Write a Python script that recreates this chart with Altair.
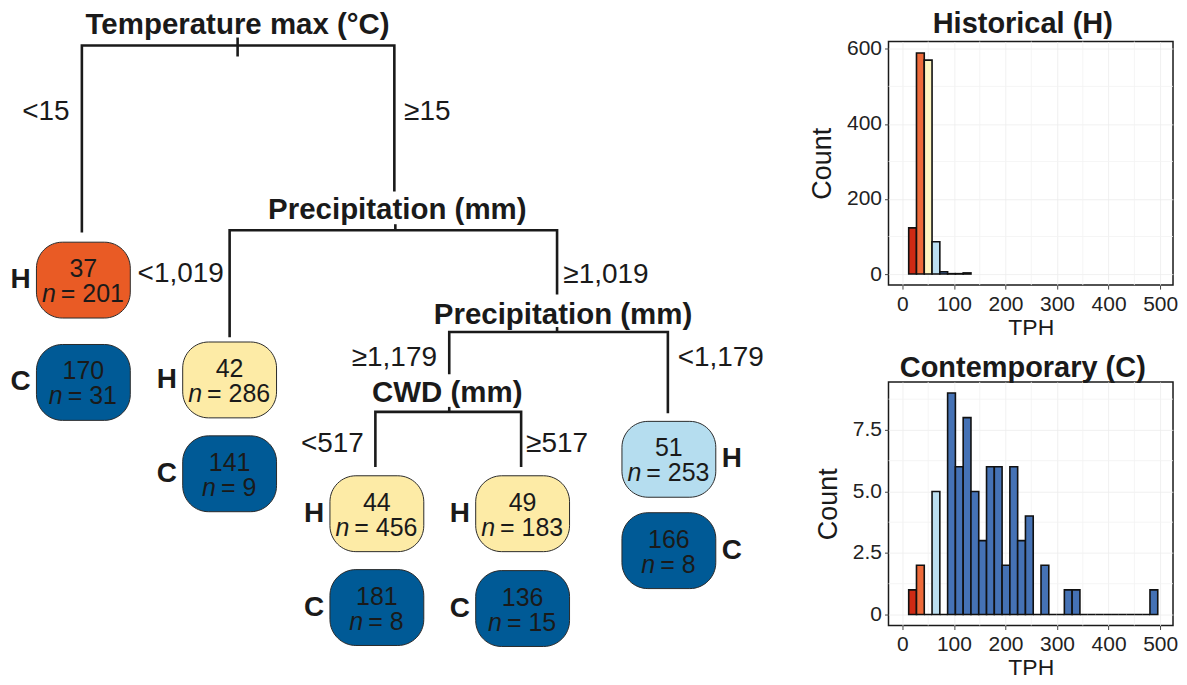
import altair as alt
import pandas as pd

FONT = "Liberation Sans"
INK = "#1a1a1a"

# ---------------- data ----------------
# Histogram bins of TPH (trees per hectare)
bin_lo = [12.2, 27.3, 42.4, 57.5, 72.6, 87.7, 102.8, 117.9, 133.0, 148.1, 163.2,
          178.3, 193.4, 208.5, 223.6, 238.7, 253.8, 268.9, 284.0, 299.1, 314.2,
          329.3, 344.4, 359.5, 374.6, 389.7, 404.8, 419.9, 435.0, 450.1, 465.2, 480.3]
bin_hi = [27.3, 42.4, 57.5, 72.6, 87.7, 102.8, 117.9, 133.0, 148.1, 163.2, 178.3,
          193.4, 208.5, 223.6, 238.7, 253.8, 268.9, 284.0, 299.1, 314.2, 329.3,
          344.4, 359.5, 374.6, 389.7, 404.8, 419.9, 435.0, 450.1, 465.2, 480.3, 495.4]
bin_class = ["very low", "low", "moderate", "high"] + ["very high"] * 28

counts_historical = [123, 589, 570, 86, 6, 1, 1, 3]
counts_contemporary = [1, 2, 0, 5, 0, 9, 6, 8, 5, 3, 6, 6, 2, 6, 3, 4,
                       0, 2, 0, 0, 1, 1, 0, 0, 0, 0, 0, 0, 0, 0, 0, 1]

x_ticks = [0, 100, 200, 300, 400, 500]
x_minor = [50, 150, 250, 350, 450]
yH_ticks = [0, 200, 400, 600]
yH_minor = [100, 300, 500]
yC_ticks = [0, 2.5, 5.0, 7.5]
yC_minor = [1.25, 3.75, 6.25, 8.75]

# Regression-tree leaves
node_value = [37, 170, 42, 141, 44, 181, 49, 136, 51, 166]
node_n = [201, 31, 286, 9, 456, 8, 183, 15, 253, 8]
node_period = ["H", "C", "H", "C", "H", "C", "H", "C", "H", "C"]
node_class = ["low", "very high", "moderate", "very high", "moderate",
              "very high", "moderate", "very high", "high", "very high"]

split_names = ["Temperature max (°C)", "Precipitation (mm)", "Precipitation (mm)", "CWD (mm)"]
branch_labels = ["<15", "≥15", "<1,019", "≥1,019", "≥1,179", "<1,179", "<517", "≥517"]

# ---------------- layout (pixel positions of the page, used in the tree panel) ----------------
TREE_TOP = 41          # page y of the tree panel's origin (aligned with histogram panel)
W_TREE, H_TREE = 790, 626
node_cx = [83.5, 83.5, 230, 230, 377.5, 377.5, 523.5, 523.5, 670, 670]
node_cy = [280, 382.5, 380, 474, 514, 608, 514, 609, 459.5, 551]
label_side = [-1, -1, -1, -1, -1, -1, -1, -1, 1, 1]
BOX_HW, BOX_HH = 47, 38

split_text_xy = [(238, 33), (398, 219), (564, 324), (448, 402)]
branch_xy = [(46, 120), (428, 120), (181, 282), (607, 283),
             (395, 366), (722, 366), (333, 452), (558, 452)]
# x_left, x_right, y_bar, y_end_left, y_end_right
split_paths = [(82, 395, 45, 231, 190), (230, 558, 230, 336, 293),
               (450, 669, 332, 373, 412), (376, 522, 412, 466, 466)]
split_ticks = [(238, 37, 56), (396, 224, 230), (558, 327, 332), (450, 407, 412)]

node_palette = {"low": "#e95b25", "moderate": "#fdeba6", "high": "#b5ddef", "very high": "#005a96"}
hist_palette = {"very low": "#cf2a14", "low": "#ee6a3a", "moderate": "#fff6c2",
                "high": "#bcdff0", "very high": "#4572b5"}

# ---------------- tree panel ----------------
xs = alt.Scale(domain=[8, 8 + W_TREE], nice=False, zero=False)
ys = alt.Scale(domain=[TREE_TOP, TREE_TOP + H_TREE], nice=False, zero=False, reverse=True)


def X(f):
    return alt.X(f"{f}:Q", scale=xs, axis=None)


def Y(f):
    return alt.Y(f"{f}:Q", scale=ys, axis=None)


path_rows = []
for i, (xl, xr, yb, yel, yer) in enumerate(split_paths):
    for k, (px, py) in enumerate([(xl, yel), (xl, yb), (xr, yb), (xr, yer)]):
        path_rows.append({"split": i, "k": k, "x": px, "y": py})
paths_df = pd.DataFrame(path_rows)

ticks_df = pd.DataFrame([{"x": a, "y": b, "y2": c} for a, b, c in split_ticks])

FS_NODE = 25
nodes = pd.DataFrame({
    "value": node_value, "n": node_n, "period": node_period, "cls": node_class,
    "cx": node_cx, "cy": node_cy, "side": label_side,
})
nodes["fill"] = nodes["cls"].map(node_palette)
nodes["x1"] = nodes["cx"] - BOX_HW
nodes["x2"] = nodes["cx"] + BOX_HW
nodes["y1"] = nodes["cy"] - BOX_HH
nodes["y2"] = nodes["cy"] + BOX_HH
nodes["vy"] = nodes["cy"] - 3
nodes["ny"] = nodes["cy"] + 22
nodes["rest"] = "= " + nodes["n"].astype(str)
w_n = 0.52 * FS_NODE
w_sp = 0.2 * FS_NODE
w_rest = (0.584 + 0.278 + 0.556 * nodes["n"].astype(str).str.len()) * FS_NODE
nodes["nx"] = nodes["cx"] - (w_n + w_sp + w_rest) / 2 + w_n
nodes["rx"] = nodes["nx"] + w_sp
nodes["lx"] = nodes["cx"] + nodes["side"] * (BOX_HW + 16)
nodes["ly"] = nodes["cy"] + 8

splits_df = pd.DataFrame({"name": split_names,
                          "x": [p[0] for p in split_text_xy],
                          "y": [p[1] for p in split_text_xy]})
branches_df = pd.DataFrame({"label": branch_labels,
                            "x": [p[0] for p in branch_xy],
                            "y": [p[1] for p in branch_xy]})

lines = alt.Chart(paths_df).mark_line(color=INK, strokeWidth=2.6, strokeJoin="miter", strokeCap="square").encode(
    x=X("x"), y=Y("y"), detail="split:N", order="k:O")
ticks = alt.Chart(ticks_df).mark_rule(color=INK, strokeWidth=2.6).encode(
    x=X("x"), y=Y("y"), y2=alt.Y2("y2:Q"))
boxes = alt.Chart(nodes).mark_rect(cornerRadius=26, stroke="#2a2a2a", strokeWidth=1).encode(
    x=X("x1"), x2=alt.X2("x2:Q"), y=Y("y1"), y2=alt.Y2("y2:Q"),
    fill=alt.Fill("fill:N", scale=None))
vals = alt.Chart(nodes).mark_text(font=FONT, fontSize=FS_NODE, color=INK, align="center",
                                  baseline="alphabetic").encode(x=X("cx"), y=Y("vy"), text="value:N")
nlab = alt.Chart(nodes).mark_text(font=FONT, fontSize=FS_NODE, fontStyle="italic", color=INK,
                                  align="right", baseline="alphabetic").encode(
    x=X("nx"), y=Y("ny"), text=alt.value("n"))
nrest = alt.Chart(nodes).mark_text(font=FONT, fontSize=FS_NODE, color=INK, align="left",
                                   baseline="alphabetic").encode(x=X("rx"), y=Y("ny"), text="rest:N")
plab = alt.Chart(nodes).mark_text(font=FONT, fontSize=28, fontWeight="bold", color=INK,
                                  align="center", baseline="alphabetic").encode(
    x=X("lx"), y=Y("ly"), text="period:N")
snames = alt.Chart(splits_df).mark_text(font=FONT, fontSize=29.5, fontWeight="bold", color=INK,
                                        align="center", baseline="alphabetic").encode(
    x=X("x"), y=Y("y"), text="name:N")
blabs = alt.Chart(branches_df).mark_text(font=FONT, fontSize=28, color=INK,
                                         align="center", baseline="alphabetic").encode(
    x=X("x"), y=Y("y"), text="label:N")

tree = alt.layer(lines, ticks, boxes, vals, nlab, nrest, plab, snames, blabs).properties(
    width=W_TREE, height=H_TREE)


# ---------------- histograms ----------------
def histogram(counts, title, ydomain, yvalues, yminor, label_expr):
    n = len(counts)
    df = pd.DataFrame({"lo": bin_lo[:n], "hi": bin_hi[:n], "count": counts, "cls": bin_class[:n]})
    df["fill"] = df["cls"].map(hist_palette)
    df["base"] = 0
    xscale = alt.Scale(domain=[-27, 525], nice=False, zero=False)
    yscale = alt.Scale(domain=ydomain, nice=False, zero=False)
    common = dict(labelFont=FONT, labelFontSize=21, labelColor="#222222", titleFont=FONT,
                  titleFontWeight="normal", titleColor=INK, tickSize=4, tickColor="#444444",
                  domain=False, grid=True, gridColor="#ececec", gridWidth=0.8)
    xaxis = alt.Axis(values=x_ticks, title="TPH", titleFontSize=23, labelPadding=4,
                     titlePadding=2, **common)
    yaxis = alt.Axis(values=yvalues, title="Count", titleFontSize=27, labelPadding=3,
                     titlePadding=10, labelExpr=label_expr, **common)
    gx = alt.Chart(pd.DataFrame({"v": x_minor})).mark_rule(color="#f3f3f3", strokeWidth=0.8).encode(
        x=alt.X("v:Q", scale=xscale, axis=xaxis))
    gy = alt.Chart(pd.DataFrame({"v": yminor})).mark_rule(color="#f3f3f3", strokeWidth=0.8).encode(
        y=alt.Y("v:Q", scale=yscale, axis=yaxis))
    bars = alt.Chart(df).mark_rect(stroke="#111111", strokeWidth=1.6).encode(
        x=alt.X("lo:Q", scale=xscale, axis=xaxis),
        x2=alt.X2("hi:Q"),
        y=alt.Y("count:Q", scale=yscale, axis=yaxis),
        y2=alt.Y2("base:Q"),
        fill=alt.Fill("fill:N", scale=None),
    )
    return alt.layer(gx, gy, bars).properties(
        width=285, height=244,
        title=alt.TitleParams(title, font=FONT, fontSize=29, fontWeight="bold", color=INK,
                              anchor="middle", offset=-1, dx=-8),
        view=alt.ViewBackground(stroke="#1a1a1a", strokeWidth=1.5),
    )


hH = histogram(counts_historical, "Historical (H)", [-29.5, 619.5], yH_ticks, yH_minor,
               "format(datum.value, 'd')")
hC = histogram(counts_contemporary, "Contemporary (C)", [-0.45, 9.45], yC_ticks, yC_minor,
               "datum.value == 0 ? '0' : format(datum.value, '.1f')")

right = alt.vconcat(hH, hC, spacing=12)
chart = alt.hconcat(tree, right, spacing=11).properties(padding=0).configure_view(strokeWidth=0)

chart.save("out.html", embed_options={"renderer": "svg", "actions": False})
